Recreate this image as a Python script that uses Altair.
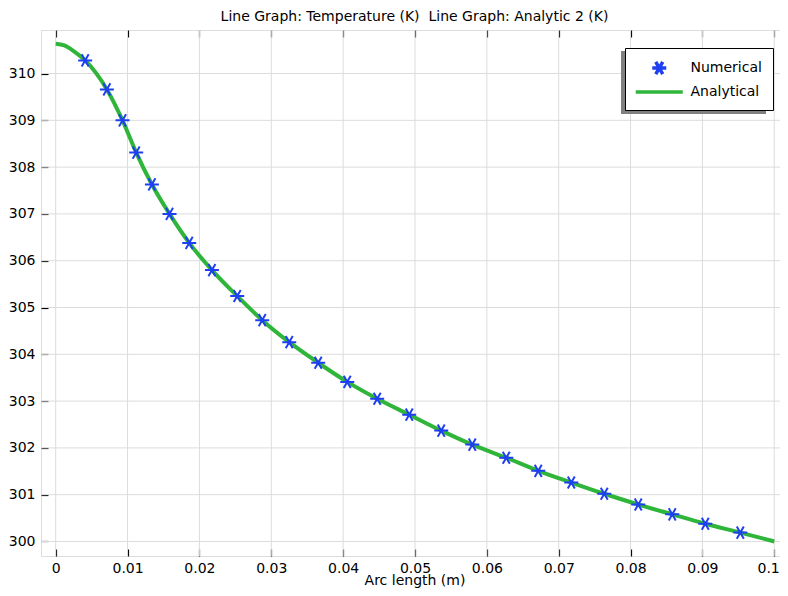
import altair as alt
import pandas as pd

# ---- data ----
num_x = [0.0041, 0.00712, 0.0093, 0.0112, 0.01339, 0.01584, 0.01858, 0.02174,
         0.02526, 0.02874, 0.0325, 0.03653, 0.04057, 0.04474, 0.0492, 0.05365,
         0.05797, 0.0627, 0.06715, 0.07175, 0.07634, 0.08107, 0.0858, 0.0904, 0.09527]
num_y = [310.28, 309.66, 309.00, 308.31, 307.63, 307.00, 306.38, 305.80,
         305.245, 304.73, 304.26, 303.82, 303.41, 303.05, 302.71, 302.37,
         302.07, 301.79, 301.51, 301.26, 301.02, 300.79, 300.58, 300.38, 300.19]

ana_x = [0.0, 0.0012, 0.0025] + num_x + [0.1]
ana_y = [310.635, 310.60, 310.48] + num_y + [300.0]

x_ticks = [0, 0.01, 0.02, 0.03, 0.04, 0.05, 0.06, 0.07, 0.08, 0.09, 0.1]
y_ticks = [300, 301, 302, 303, 304, 305, 306, 307, 308, 309, 310]

series_names = ["Numerical", "Analytical"]
series_colors = ["#1f3ff2", "#2fb53a"]

title_text = "Line Graph: Temperature (K)\u00a0 Line Graph: Analytic 2 (K)"
x_title = "Arc length (m)"

# ---- tables ----
num_df = pd.DataFrame({"x": num_x, "y": num_y, "series": "Numerical"})
ana_df = pd.DataFrame({"x": ana_x, "y": ana_y, "series": "Analytical"})
xt_df = pd.DataFrame({"v": x_ticks})
yt_df = pd.DataFrame({"v": y_ticks})

FONT = "DejaVu Sans"
W, H = 747, 526

xscale = alt.Scale(domain=[-0.002046, 0.10191], nice=False, zero=False)
yscale = alt.Scale(domain=[299.69, 310.93], nice=False, zero=False)

ASTER = "M-1,0L1,0M-0.5,-0.866L0.5,0.866M-0.5,0.866L0.5,-0.866"
LINE = "M-3.36,0L3.36,0"
color_scale = alt.Scale(domain=series_names, range=series_colors)
shape_scale = alt.Scale(domain=series_names, range=[ASTER, LINE])

leg = alt.Legend(title=None, orient="none", legendX=584, legendY=18,
                 fillColor="white", strokeColor="black", padding=11,
                 symbolSize=196, symbolStrokeWidth=3.5, labelOffset=22.25,
                 symbolOffset=14.25, rowPadding=1, labelFontSize=14,
                 labelFont=FONT, labelColor="black")

x_axis_bottom = alt.Axis(values=x_ticks, format="~g", grid=False, domain=False,
                         tickSize=7, offset=-7, tickColor="black", tickWidth=1.2,
                         orient="bottom", labelPadding=5.5, labelFontSize=14,
                         labelFont=FONT, labelColor="black", title=x_title,
                         titleFont=FONT, titleFontSize=14, titleFontWeight="normal",
                         titleColor="black", titlePadding=-2,
                         labelFlush=14, labelFlushOffset=5)
y_axis_left = alt.Axis(values=y_ticks, format="~g", grid=False, domain=False,
                       tickSize=7, offset=-7, tickColor="black", tickWidth=1.2,
                       orient="left", labelPadding=6, labelFontSize=14,
                       labelFont=FONT, labelColor="black", title=None)
x_axis_top = alt.Axis(values=x_ticks, grid=False, domain=False, tickSize=7,
                      offset=-7, tickColor="black", tickWidth=1.2,
                      orient="top", labels=False, title=None)
y_axis_right = alt.Axis(values=y_ticks, grid=False, domain=False, tickSize=7,
                        offset=-7, tickColor="black", tickWidth=1.2,
                        orient="right", labels=False, title=None)

grid_x = alt.Chart(xt_df).mark_rule(color="#dcdcdc", strokeWidth=1).encode(
    x=alt.X("v:Q", scale=xscale, axis=x_axis_bottom)
)
grid_y = alt.Chart(yt_df).mark_rule(color="#dcdcdc", strokeWidth=1).encode(
    y=alt.Y("v:Q", scale=yscale, axis=y_axis_left)
)

shadow = alt.Chart(xt_df.head(1)).mark_rect(color="#808080").encode(
    x=alt.value(580), x2=alt.value(725), y=alt.value(21), y2=alt.value(84)
)

line = alt.Chart(ana_df).mark_line(strokeWidth=4, interpolate="monotone").encode(
    x=alt.X("x:Q", scale=xscale, axis=x_axis_top),
    y=alt.Y("y:Q", scale=yscale, axis=y_axis_right),
    color=alt.Color("series:N", scale=color_scale, legend=leg),
)

points = alt.Chart(num_df).mark_point(filled=False, size=196, strokeWidth=2,
                                      opacity=1).encode(
    x=alt.X("x:Q", scale=xscale, axis=None),
    y=alt.Y("y:Q", scale=yscale, axis=None),
    color=alt.Color("series:N", scale=color_scale, legend=leg),
    shape=alt.Shape("series:N", scale=shape_scale, legend=leg),
)

chart = alt.layer(grid_x, grid_y, shadow, line, points).resolve_axis(
    x="independent", y="independent"
).properties(
    width=W, height=H,
    title=alt.TitleParams(title_text, font=FONT, fontSize=14, fontWeight="normal",
                          color="black", anchor="middle", frame="group",
                          baseline="alphabetic", offset=-5.5),
    autosize=alt.AutoSizeParams(type="none"),
    padding={"left": 33, "top": 22, "right": -8, "bottom": 32},
).configure_view(stroke="black", strokeWidth=1.2).configure(background="white")

chart.save("out.html", embed_options={"renderer": "svg", "actions": False})
